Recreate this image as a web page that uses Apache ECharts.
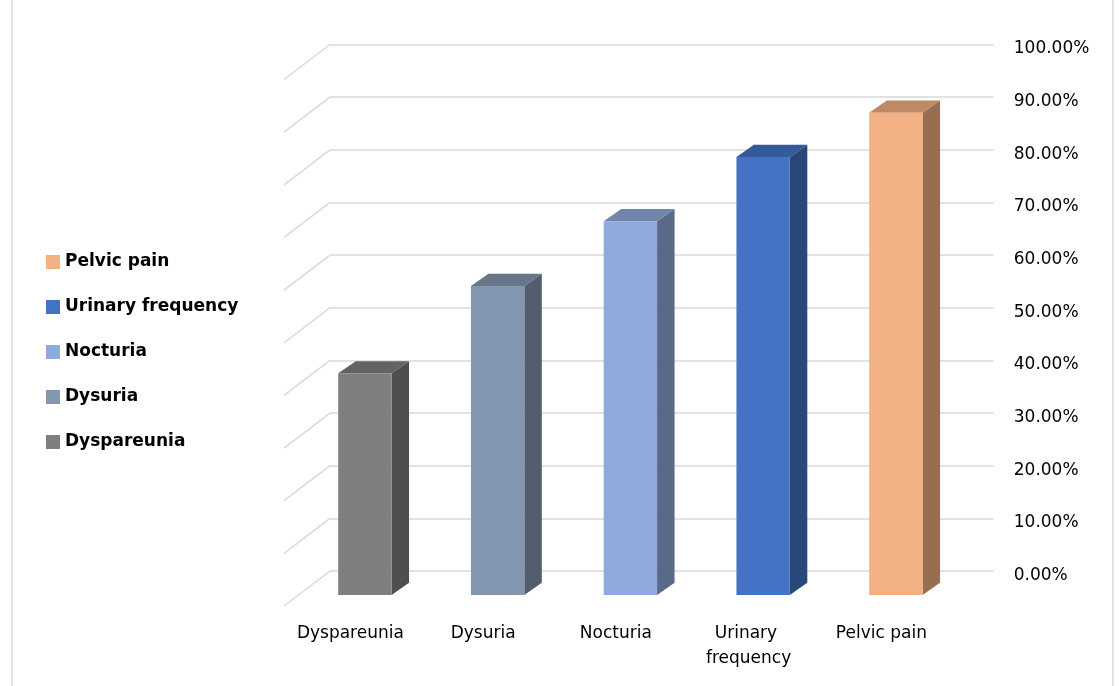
<!DOCTYPE html>
<html>
<head>
<meta charset="utf-8">
<title>Symptoms</title>
<script src="https://cdn.jsdelivr.net/npm/echarts@6/dist/echarts.min.js"></script>
<style>
  html, body { margin: 0; padding: 0; background: #fff; }
  #chart { width: 1120px; height: 686px; }
</style>
</head>
<body>
<div id="chart"></div>
<script>
// data
const categories = ['Dyspareunia', 'Dysuria', 'Nocturia', 'Urinary frequency', 'Pelvic pain']
const values = [42.1, 58.7, 71.0, 83.2, 91.6]
const colors = ['#7f7f7f', '#8497b0', '#8faadc', '#4472c4', '#f4b183']
const tickValues = [0, 10, 20, 30, 40, 50, 60, 70, 80, 90, 100]

// 3d look (screen offsets from the back wall)
const FLOOR = [46, 35]      // full depth of floor
const FRONT = [31.5, 24]    // bar front face
const BACK = [14, 11.8]     // bar back face
const BAR_RATIO = 0.402
const FONT = 'DejaVu Sans'

const shade = (hex, k) => {
  const n = parseInt(hex.slice(1), 16)
  const r = Math.round(((n >> 16) & 255) * k)
  const g = Math.round(((n >> 8) & 255) * k)
  const b = Math.round((n & 255) * k)
  return `rgb(${r},${g},${b})`
}

const renderBar = (params, api) => {
  const cat = api.value(0)
  const val = api.value(1)
  const topPt = api.coord([cat, val])
  const basePt = api.coord([cat, 0])
  const half = api.size([1, 0])[0] * BAR_RATIO / 2
  const color = api.visual('color')

  const fx = topPt[0] - FRONT[0]
  const bx = topPt[0] - BACK[0]
  const fTop = topPt[1] + FRONT[1]
  const fBot = basePt[1] + FRONT[1]
  const bTop = topPt[1] + BACK[1]
  const bBot = basePt[1] + BACK[1]

  return {
    type: 'group',
    children: [
      {
        type: 'polygon',
        shape: { points: [[fx + half, fTop], [bx + half, bTop], [bx + half, bBot], [fx + half, fBot]] },
        style: { fill: shade(color, 0.62) }
      },
      {
        type: 'polygon',
        shape: { points: [[fx - half, fTop], [fx + half, fTop], [bx + half, bTop], [bx - half, bTop]] },
        style: { fill: shade(color, 0.78) }
      },
      {
        type: 'rect',
        shape: { x: fx - half, y: fTop, width: half * 2, height: fBot - fTop },
        style: { fill: color }
      }
    ]
  }
}

// diagonal lines of the side wall
const renderWall = (params, api) => {
  const y = api.coord([0, api.value(1)])[1]
  const x = params.coordSys.x
  return {
    type: 'line',
    shape: { x1: x, y1: y, x2: x - FLOOR[0], y2: y + FLOOR[1] },
    style: { stroke: '#d9d9d9', lineWidth: 1.5 }
  }
}

const barSeries = categories.map((name, i) => ({
  name: name,
  type: 'custom',
  renderItem: renderBar,
  itemStyle: { color: colors[i] },
  encode: { x: 0, y: 1 },
  data: [[i, values[i]]],
  z: 3
}))

const chart = echarts.init(document.getElementById('chart'))
chart.setOption({
  animation: false,
  graphic: [{
    type: 'rect',
    shape: { x: 12, y: -5, width: 1101, height: 700 },
    style: { fill: 'none', stroke: '#d9d9d9', lineWidth: 1.5 },
    silent: true
  }],
  legend: {
    orient: 'vertical',
    left: 41,
    top: 247,
    icon: 'rect',
    itemWidth: 14,
    itemHeight: 14,
    itemGap: 25,
    data: categories.slice().reverse(),
    textStyle: {
      fontFamily: FONT,
      fontWeight: 'bold',
      fontSize: 17,
      lineHeight: 20,
      color: '#000'
    }
  },
  grid: {
    left: 330,
    right: 126.25,
    top: 44.5,
    bottom: 115
  },
  xAxis: {
    type: 'category',
    data: categories,
    axisLine: { show: false },
    axisTick: { show: false },
    axisLabel: {
      interval: 0,
      margin: 50,
      padding: [0, 92, 0, 0],
      width: 120,
      overflow: 'break',
      lineHeight: 25,
      fontFamily: FONT,
      fontSize: 17,
      color: '#000'
    }
  },
  yAxis: {
    type: 'value',
    position: 'right',
    min: 0,
    max: 100,
    interval: 10,
    axisLine: { show: false },
    axisTick: { show: false },
    splitLine: { lineStyle: { color: '#d9d9d9', width: 1.5 } },
    axisLabel: {
      margin: 20,
      verticalAlign: 'top',
      lineHeight: 9,
      fontFamily: FONT,
      fontSize: 17,
      color: '#000',
      formatter: v => v.toFixed(2) + '%'
    }
  },
  series: [
    {
      name: 'wall',
      type: 'custom',
      renderItem: renderWall,
      silent: true,
      encode: { x: 0, y: 1 },
      data: tickValues.map(v => [0, v]),
      z: 1
    },
    ...barSeries
  ]
})
</script>
</body>
</html>
